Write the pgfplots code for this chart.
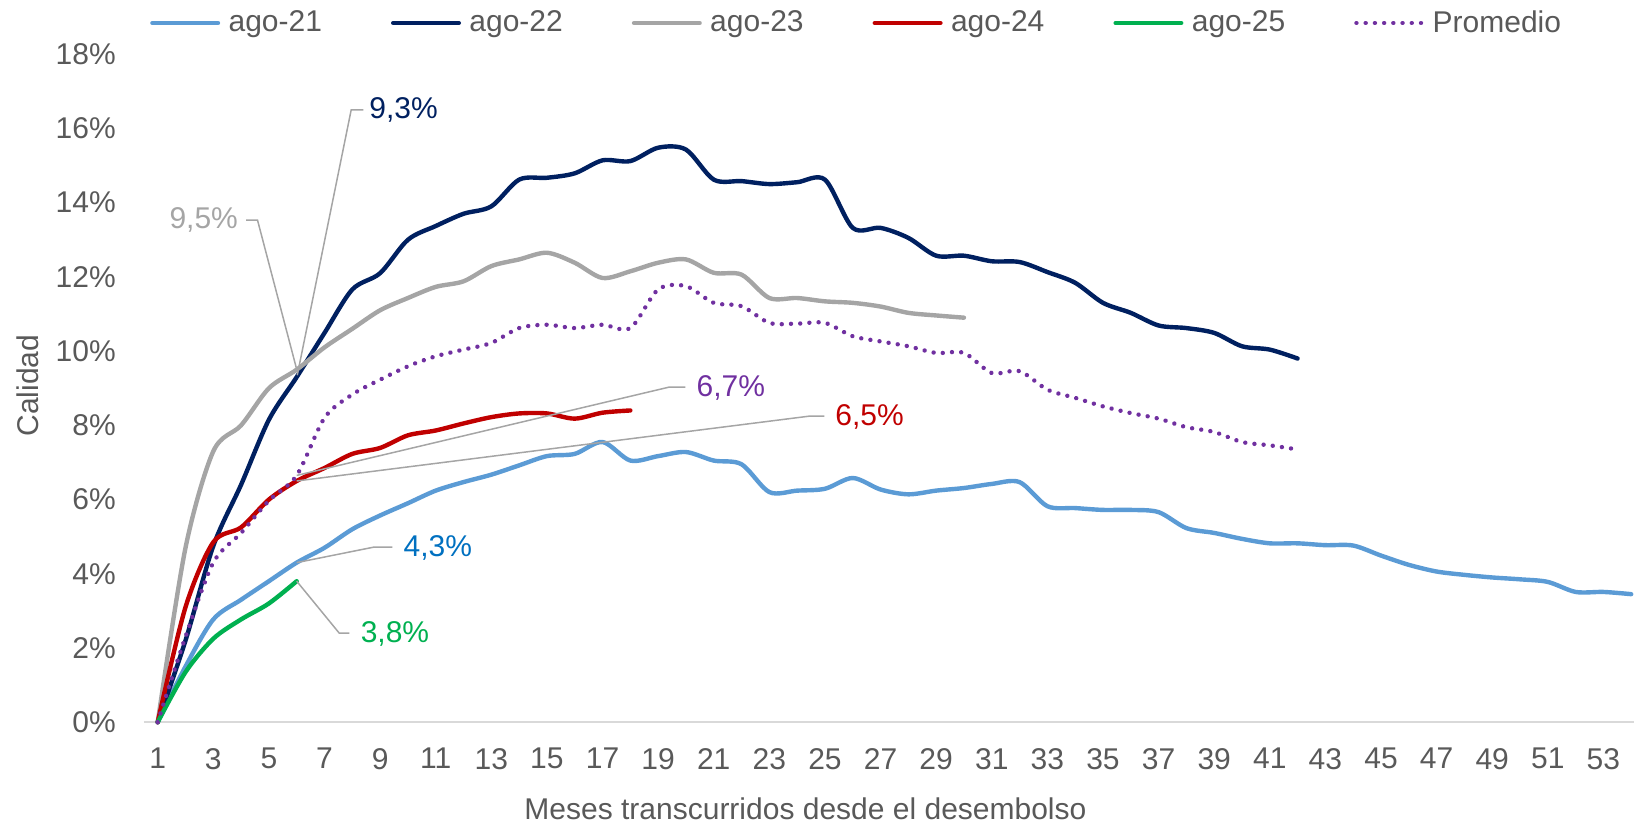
\documentclass[border=0pt]{standalone}
\usepackage{fontspec}
\setmainfont{Liberation Sans}
\usepackage{pgfplots}
\pgfplotsset{compat=1.18}
\definecolor{cA}{HTML}{5B9BD5}
\definecolor{cB}{HTML}{002060}
\definecolor{cC}{HTML}{A5A5A5}
\definecolor{cD}{HTML}{C00000}
\definecolor{cE}{HTML}{00B050}
\definecolor{cF}{HTML}{7030A0}
\definecolor{cT}{HTML}{595959}
\definecolor{cL}{HTML}{D9D9D9}
\definecolor{cBlue}{HTML}{0070C0}
\begin{document}
\begin{tikzpicture}
\useasboundingbox (-71.9pt,-50.9pt) rectangle (745.1pt,361.1pt);
\begin{axis}[
  at={(0,0)}, anchor=south west,
  scale only axis, width=745.1pt, height=334pt,
  xmin=0.5, xmax=54.1, ymin=0, ymax=18,
  axis x line=bottom, axis y line=left,
  x axis line style={-, draw=cL, line width=1pt},
  y axis line style={draw=none},
  tick style={draw=none}, major tick length=0pt,
  xtick={1,3,...,53}, ytick={0,2,...,18},
  yticklabel={\pgfmathprintnumber{\tick}\%},
  /pgf/number format/assume math mode=true,
  ticklabel style={font=\fontsize{15}{18}\selectfont, text=cT},
  yticklabel style={xshift=-10.5pt},
  xticklabel style={yshift=-9.5pt},
  xlabel={Meses transcurridos desde el desembolso},
  ylabel={Calidad},
  label style={font=\fontsize{15}{18}\selectfont, text=cT},
  xlabel style={at={(axis description cs:0.444,0)}, anchor=center, yshift=-43.25pt},
  ylabel style={at={(axis description cs:0,0.504)}, anchor=center, yshift=57.85pt},
  clip=false,
  legend columns=6,
  legend style={draw=none, fill=none, inner sep=0pt, font=\fontsize{15}{18}\selectfont, text=cT,
    at={(0,1)}, anchor=west, xshift=3.0pt, yshift=15.6pt,
    nodes={inner sep=0pt},
    /tikz/every odd column/.append style={column sep=4.2pt},
    /tikz/every even column/.append style={column sep=34.5pt}},
  legend image code/.code={\draw[#1] (0pt,0pt) -- (32.8pt,0pt);},
  every axis plot/.append style={line width=2.2pt, line join=round},
]
\addplot[cA, smooth, line cap=round] coordinates {
(1,0)(2,1.5)(3,2.77)(4,3.3)(5,3.8)(6,4.3)(7,4.7)(8,5.2)(9,5.57)(10,5.9)
(11,6.24)(12,6.47)(13,6.67)(14,6.92)(15,7.17)(16,7.23)(17,7.55)(18,7.05)(19,7.17)(20,7.28)
(21,7.05)(22,6.95)(23,6.2)(24,6.24)(25,6.29)(26,6.58)(27,6.27)(28,6.14)(29,6.24)(30,6.31)
(31,6.42)(32,6.47)(33,5.82)(34,5.77)(35,5.72)(36,5.72)(37,5.66)(38,5.23)(39,5.1)(40,4.94)
(41,4.82)(42,4.82)(43,4.77)(44,4.76)(45,4.49)(46,4.24)(47,4.06)(48,3.97)(49,3.9)(50,3.85)
(51,3.78)(52,3.51)(53,3.51)(54,3.45)};
\addlegendentry{ago-21}
\addplot[cB, smooth, line cap=round] coordinates {
(1,0)(2,2.2)(3,4.75)(4,6.4)(5,8.15)(6,9.3)(7,10.49)(8,11.66)(9,12.1)(10,13.0)
(11,13.37)(12,13.7)(13,13.9)(14,14.62)(15,14.67)(16,14.79)(17,15.14)(18,15.12)(19,15.48)(20,15.43)
(21,14.62)(22,14.58)(23,14.5)(24,14.55)(25,14.62)(26,13.32)(27,13.32)(28,13.05)(29,12.57)(30,12.57)
(31,12.42)(32,12.4)(33,12.13)(34,11.84)(35,11.3)(36,11.03)(37,10.69)(38,10.62)(39,10.49)(40,10.13)
(41,10.04)(42,9.8)};
\addlegendentry{ago-22}
\addplot[cC, smooth, line cap=round] coordinates {
(1,0)(2,4.7)(3,7.3)(4,8.0)(5,9.0)(6,9.5)(7,10.1)(8,10.6)(9,11.1)(10,11.43)
(11,11.73)(12,11.88)(13,12.29)(14,12.47)(15,12.65)(16,12.38)(17,11.97)(18,12.15)(19,12.38)(20,12.47)
(21,12.11)(22,12.06)(23,11.43)(24,11.43)(25,11.34)(26,11.3)(27,11.2)(28,11.03)(29,10.96)(30,10.9)};
\addlegendentry{ago-23}
\addplot[cD, smooth, line cap=round] coordinates {
(1,0)(2,3.1)(3,4.85)(4,5.25)(5,6.0)(6,6.5)(7,6.85)(8,7.23)(9,7.39)(10,7.73)
(11,7.86)(12,8.05)(13,8.22)(14,8.32)(15,8.32)(16,8.18)(17,8.34)(18,8.4)};
\addlegendentry{ago-24}
\addplot[cE, smooth, line cap=round] coordinates {
(1,0)(2,1.35)(3,2.25)(4,2.77)(5,3.2)(6,3.8)};
\addlegendentry{ago-25}
\addplot[cF, smooth, line cap=round, dash pattern=on 0.01pt off 4.6pt] coordinates {
(1,0)(2,2.3)(3,4.3)(4,5.1)(5,5.97)(6,6.65)(7,8.2)(8,8.83)(9,9.23)(10,9.59)
(11,9.86)(12,10.04)(13,10.22)(14,10.62)(15,10.71)(16,10.62)(17,10.71)(18,10.62)(19,11.66)(20,11.75)
(21,11.3)(22,11.21)(23,10.76)(24,10.74)(25,10.76)(26,10.4)(27,10.26)(28,10.13)(29,9.95)(30,9.95)
(31,9.41)(32,9.46)(33,8.96)(34,8.74)(35,8.51)(36,8.33)(37,8.18)(38,7.95)(39,7.82)(40,7.55)
(41,7.46)(42,7.35)};
\addlegendentry{Promedio}
% leader lines and labels
\draw[cC, line width=0.75pt] (axis cs:6.02,9.35) -- (axis cs:7.96,16.5) -- (axis cs:8.4,16.5);
\node[anchor=west, inner sep=0pt, text=cB, font=\fontsize{15}{18}\selectfont] at (axis cs:8.6,16.5) {9,3\%};
\draw[cC, line width=0.75pt] (axis cs:6.02,9.45) -- (axis cs:4.59,13.53) -- (axis cs:4.18,13.53);
\node[anchor=east, inner sep=0pt, text=cC, font=\fontsize{15}{18}\selectfont] at (axis cs:3.9,13.53) {9,5\%};
\draw[cC, line width=0.75pt] (axis cs:6,6.65) -- (axis cs:19.4,9.03) -- (axis cs:19.98,9.03);
\node[anchor=west, inner sep=0pt, text=cF, font=\fontsize{15}{18}\selectfont] at (axis cs:20.37,9.0) {6,7\%};
\draw[cC, line width=0.75pt] (axis cs:6,6.5) -- (axis cs:24.47,8.25) -- (axis cs:24.98,8.25);
\node[anchor=west, inner sep=0pt, text=cD, font=\fontsize{15}{18}\selectfont] at (axis cs:25.36,8.23) {6,5\%};
\draw[cC, line width=0.75pt] (axis cs:6,4.3) -- (axis cs:8.79,4.72) -- (axis cs:9.44,4.72);
\node[anchor=west, inner sep=0pt, text=cBlue, font=\fontsize{15}{18}\selectfont] at (axis cs:9.83,4.7) {4,3\%};
\draw[cC, line width=0.75pt] (axis cs:6,3.8) -- (axis cs:7.53,2.4) -- (axis cs:7.89,2.4);
\node[anchor=west, inner sep=0pt, text=cE, font=\fontsize{15}{18}\selectfont] at (axis cs:8.29,2.38) {3,8\%};
\end{axis}
\end{tikzpicture}
\end{document}
